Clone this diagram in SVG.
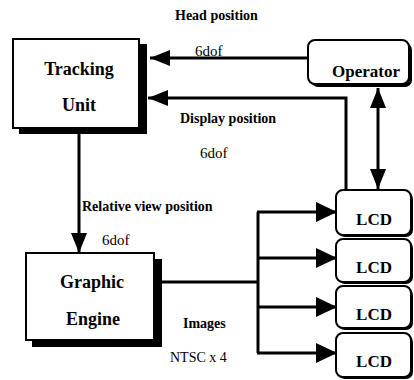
<svg xmlns="http://www.w3.org/2000/svg" width="414" height="380" viewBox="0 0 414 380">
<style>
  .box { fill: #fff; stroke: #000; stroke-width: 2; }
  .shadow { fill: #000; }
  .conn { fill: none; stroke: #000; stroke-width: 3; }
</style>
<defs>
  <marker id="ah" markerUnits="userSpaceOnUse" markerWidth="21" markerHeight="16" refX="20" refY="8" orient="auto-start-reverse">
    <path d="M0,0 L20,8 L0,16 z" fill="#000"/>
  </marker>
  <marker id="ahb" markerUnits="userSpaceOnUse" markerWidth="22" markerHeight="20" refX="21" refY="10" orient="auto">
    <path d="M0,0 L21,10 L0,20 z" fill="#000"/>
  </marker>
</defs>
<rect width="414" height="380" fill="#fff"/>

<g id="connectors">
  <line class="conn" x1="308" y1="58" x2="150" y2="58" marker-end="url(#ah)"/>
  <path class="conn" d="M346,190 V98 H148" marker-end="url(#ah)"/>
  <line class="conn" x1="378" y1="88" x2="378" y2="189" marker-start="url(#ah)" marker-end="url(#ah)"/>
  <line class="conn" x1="79" y1="134" x2="79" y2="253" marker-end="url(#ah)"/>
  <path class="conn" d="M162,282 H258"/>
  <path class="conn" d="M258,212 V353"/>
  <line class="conn" x1="257" y1="212" x2="337" y2="212" marker-end="url(#ahb)"/>
  <line class="conn" x1="257" y1="258" x2="337" y2="258" marker-end="url(#ahb)"/>
  <line class="conn" x1="257" y1="307" x2="337" y2="307" marker-end="url(#ahb)"/>
  <line class="conn" x1="257" y1="353" x2="337" y2="353" marker-end="url(#ahb)"/>
</g>

<g id="labels">
  <text x="175" y="20" font-family="Liberation Serif" font-size="14" font-weight="bold">Head position</text>
  <text x="195" y="56" font-family="Liberation Serif" font-size="15">6dof</text>
  <text x="180" y="123" font-family="Liberation Serif" font-size="14" font-weight="bold">Display position</text>
  <text x="200" y="158" font-family="Liberation Serif" font-size="15">6dof</text>
  <text x="82" y="211" font-family="Liberation Serif" font-size="14" font-weight="bold">Relative view position</text>
  <text x="102" y="245" font-family="Liberation Serif" font-size="15">6dof</text>
  <text x="183" y="328" font-family="Liberation Serif" font-size="14" font-weight="bold">Images</text>
  <text x="170" y="362" font-family="Liberation Serif" font-size="14">NTSC x 4</text>
</g>

<g id="tracking-unit">
  <rect class="shadow" x="19" y="44" width="128" height="90"/>
  <rect class="box" x="13" y="39" width="126" height="89"/>
  <text x="79" y="75" font-family="Liberation Serif" font-size="18" font-weight="bold" text-anchor="middle">Tracking</text>
  <text x="79" y="111" font-family="Liberation Serif" font-size="18" font-weight="bold" text-anchor="middle">Unit</text>
</g>

<g id="graphic-engine">
  <rect class="shadow" x="32" y="259" width="130" height="88"/>
  <rect class="box" x="26" y="253" width="128" height="87"/>
  <text x="92" y="288" font-family="Liberation Serif" font-size="18" font-weight="bold" text-anchor="middle">Graphic</text>
  <text x="93" y="325" font-family="Liberation Serif" font-size="18" font-weight="bold" text-anchor="middle">Engine</text>
</g>

<g id="operator">
  <rect class="shadow" x="311" y="43" width="101" height="44" rx="7"/>
  <rect class="box" x="308" y="40" width="101" height="44" rx="7"/>
  <text x="366" y="77" font-family="Liberation Serif" font-size="17" font-weight="bold" text-anchor="middle">Operator</text>
</g>

<g id="lcd1">
  <rect class="shadow" x="338" y="192" width="75" height="45" rx="7"/>
  <rect class="box" x="336" y="190" width="75" height="45" rx="7"/>
  <text x="374" y="225" font-family="Liberation Serif" font-size="17" font-weight="bold" text-anchor="middle">LCD</text>
</g>
<g id="lcd2">
  <rect class="shadow" x="338" y="241" width="75" height="43" rx="7"/>
  <rect class="box" x="336" y="239" width="75" height="43" rx="7"/>
  <text x="374" y="273" font-family="Liberation Serif" font-size="17" font-weight="bold" text-anchor="middle">LCD</text>
</g>
<g id="lcd3">
  <rect class="shadow" x="338" y="288" width="75" height="42" rx="7"/>
  <rect class="box" x="336" y="286" width="75" height="42" rx="7"/>
  <text x="374" y="320" font-family="Liberation Serif" font-size="17" font-weight="bold" text-anchor="middle">LCD</text>
</g>
<g id="lcd4">
  <rect class="shadow" x="338" y="335" width="75" height="44" rx="7"/>
  <rect class="box" x="336" y="333" width="75" height="44" rx="7"/>
  <text x="374" y="367" font-family="Liberation Serif" font-size="17" font-weight="bold" text-anchor="middle">LCD</text>
</g>
</svg>
